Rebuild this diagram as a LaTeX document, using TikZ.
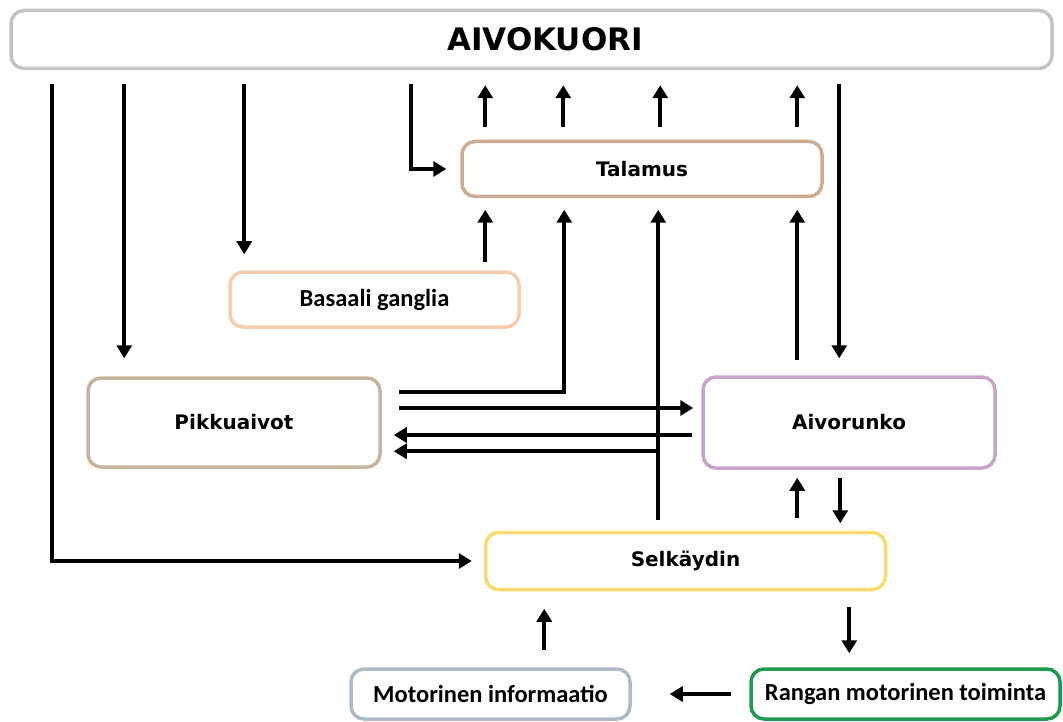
\documentclass[tikz,border=0pt]{standalone}
\usepackage{fontspec}
\usetikzlibrary{arrows.meta,calc}
\newfontfamily\dvs{DejaVu Sans}
\newfontfamily\carl{Carlito}
\definecolor{ctxc}{HTML}{C3C3C3}
\definecolor{talc}{HTML}{CBAC90}
\definecolor{basc}{HTML}{F7CDAD}
\definecolor{pikc}{HTML}{C9B39D}
\definecolor{aivc}{HTML}{C8A4C8}
\definecolor{selc}{HTML}{FADB6E}
\definecolor{motc}{HTML}{AEB9C9}
\definecolor{ranc}{HTML}{1E9B50}
\tikzset{
  box/.style={draw, line width=3.5pt, rounded corners=13pt, fill=white, inner sep=0pt, align=center},
  vtext/.style={font=\dvs\bfseries\fontsize{20}{24}\selectfont},
  ctext/.style={font=\carl\bfseries\fontsize{24.5}{28}\selectfont},
  arr/.style={line width=4pt, -{Triangle[length=13pt,width=15pt]}}
}
\begin{document}
\begin{tikzpicture}[x=1pt,y=-1pt]
\useasboundingbox (0,0) rectangle (1063,722);
% nodes
\node[box, draw=ctxc, minimum width=1041pt, minimum height=58pt] (ctx) at (531.5,39.5) {};
\node[font=\dvs\bfseries\fontsize{31}{36}\selectfont, inner sep=0pt] (ctxt) at (545,39.5) {AIVOKUORI};
\node[box, draw=talc, vtext, minimum width=360pt, minimum height=55pt] (tal) at (642,169) {Talamus};
\node[box, draw=basc, ctext, minimum width=289pt, minimum height=55pt] (bas) at (374.5,299.5) {Basaali ganglia};
\node[box, draw=pikc, vtext, minimum width=292pt, minimum height=89pt] (pik) at (234,422.5) {Pikkuaivot};
\node[box, draw=aivc, vtext, minimum width=292pt, minimum height=91pt] (aiv) at (849,422.5) {Aivorunko};
\node[box, draw=selc, vtext, minimum width=400pt, minimum height=57pt] (sel) at (685.5,561) {Selkäydin};
\node[box, draw=motc, ctext, minimum width=279pt, minimum height=50pt] (mot) at (490.5,694) {Motorinen informaatio};
\node[box, draw=ranc, ctext, minimum width=309pt, minimum height=50pt] (ran) at (905.5,694) {Rangan motorinen toiminta};
% cortex -> down
\draw[arr, shorten >=12pt] ($(ctx.south west)+(43,13.5)$) |- (sel.west);
\draw[arr, shorten >=18pt] ($(ctx.south west)+(115,13.5)$) coordinate (s2) -- (s2 |- pik.north);
\draw[arr, shorten >=16pt] ($(ctx.south west)+(235,13.5)$) coordinate (s3) -- (s3 |- bas.north);
\draw[arr, shorten >=14pt] ($(ctx.south west)+(402,13.5)$) |- (tal.west);
\draw[arr, shorten >=17pt] ($(ctx.south west)+(830,13.5)$) coordinate (s6) -- (s6 |- aiv.north);
% talamus -> cortex
\foreach \dx/\nm in {25/u1,103/u2,200/u3,337/u4}{
  \draw[arr, shorten >=15pt] ($(tal.north west)+(\dx,-12.5)$) coordinate (\nm) -- (\nm |- ctx.south);
}
% basal ganglia -> talamus
\draw[arr, shorten >=11.5pt] ($(bas.north west)+(257,-8)$) coordinate (b1) -- (b1 |- tal.south);
% pikkuaivot -> talamus
\draw[arr, shorten >=11.5pt] ($(pik.east)+(17,-30.5)$) -| ($(tal.south west)+(104,0)$);
% pikkuaivot -> aivorunko
\draw[arr, shorten >=8pt] ($(pik.east)+(17,-14.5)$) coordinate (p9) -- (p9 -| aiv.west);
% aivorunko -> pikkuaivot
\draw[arr, shorten >=12pt] ($(aiv.west)+(-9,12.5)$) coordinate (p10) -- (p10 -| pik.east);
% selkaydin -> talamus, and branch to pikkuaivot
\draw[arr, shorten >=11.5pt] ($(sel.north west)+(174.5,-10.5)$) coordinate (p11) -- (p11 |- tal.south);
\draw[arr, shorten >=12pt] ($(p11)+(0,-69)$) coordinate (j) -- (j -| pik.east);
% aivorunko -> talamus
\draw[arr, shorten >=11.5pt] ($(aiv.north west)+(96,-15)$) coordinate (p13) -- (p13 |- tal.south);
% selkaydin <-> aivorunko
\draw[arr, shorten >=8pt] ($(sel.north west)+(313.5,-12.5)$) coordinate (p14) -- (p14 |- aiv.south);
\draw[arr, shorten >=7.5pt] ($(aiv.south west)+(139,8)$) coordinate (p15) -- (p15 |- sel.north);
% selkaydin -> rangan
\draw[arr, shorten >=14pt] ($(sel.south west)+(365.5,15.5)$) coordinate (p16) -- (p16 |- ran.north);
% rangan -> motorinen
\draw[arr, shorten >=38pt] ($(ran.west)+(-18,0)$) -- (mot.east);
% motorinen -> selkaydin
\draw[arr, shorten >=17.5pt] ($(mot.north west)+(195,-17)$) coordinate (p18) -- (p18 |- sel.south);
\end{tikzpicture}
\end{document}
